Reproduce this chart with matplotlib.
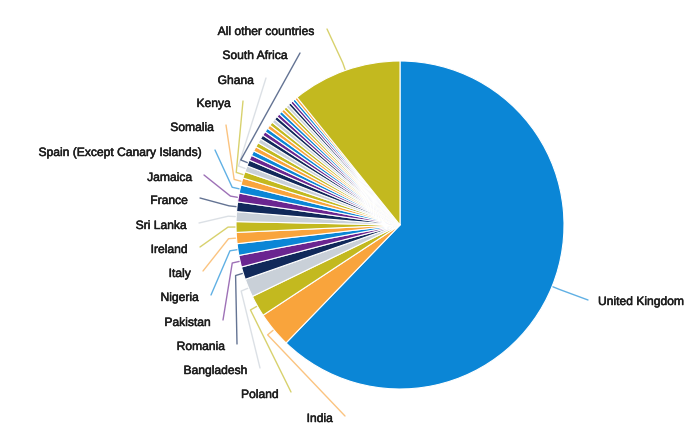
import matplotlib.pyplot as plt
import matplotlib.patheffects as pe
import numpy as np

plt.rcParams['font.family'] = ['Liberation Sans', 'DejaVu Sans']

# labelled countries, clockwise from 12 o'clock (share of total, %)
labels = ["United Kingdom", "India", "Poland", "Bangladesh", "Romania", "Pakistan",
          "Nigeria", "Italy", "Ireland", "Sri Lanka", "France", "Jamaica",
          "Spain (Except Canary Islands)", "Somalia", "Kenya", "Ghana", "South Africa"]
shares = [62.2, 3.5, 2.1, 1.8, 1.25, 1.15, 1.15, 1.1, 1.05, 0.97, 0.95, 0.87,
          0.8, 0.7, 0.65, 0.6, 0.6]

# small countries drawn without a label
unlabelled = [0.5, 0.48, 0.46, 0.45, 0.44, 0.42, 0.41, 0.4, 0.38, 0.37, 0.36,
              0.35, 0.34, 0.33, 0.32, 0.31, 0.3, 0.29, 0.28, 0.27, 0.26]

other_label = "All other countries"
other_share = 10.8

palette = ["#0b86d6", "#f9a43c", "#c3b91f", "#c9d0d8", "#11295a", "#6a2590"]

# where each label sits in the picture (pixels from top-left)
label_xy = [(598, 302), (333, 419), (279, 395), (248, 371), (225, 347), (211, 323),
            (199, 298), (191, 274), (188, 250), (187, 226), (188, 201), (192, 178),
            (203, 153), (214, 128), (231, 104), (254, 81), (288, 56)]
other_xy = (315, 32)

W, H = 700, 441
cx, cy, R = 400, H - 225, 164

values = shares + unlabelled + [other_share]
names = labels + [""] * len(unlabelled) + [other_label]
positions = label_xy + [None] * len(unlabelled) + [other_xy]
colors = [palette[i % len(palette)] for i in range(len(values))]

fig = plt.figure(figsize=(W / 100, H / 100), dpi=100)
ax = fig.add_axes([0, 0, 1, 1])

wedges, _ = ax.pie(values, colors=colors, startangle=90, counterclock=False,
                   center=(cx, cy), radius=R,
                   wedgeprops=dict(edgecolor="white", linewidth=0.8))

bold_ish = [pe.withStroke(linewidth=0.35, foreground="#1e1e1e")]

for w, name, pos, col in zip(wedges, names, positions, colors):
    if pos is None:
        continue
    mid = np.deg2rad((w.theta1 + w.theta2) / 2)
    rim = (cx + (R + 1) * np.cos(mid), cy + (R + 1) * np.sin(mid))
    elbow = (cx + (R + 8) * np.cos(mid), cy + (R + 8) * np.sin(mid))
    tx, ty = pos[0], H - pos[1]
    if name == "United Kingdom":
        start = (tx - 10, ty + 2)
        ha = "left"
    else:
        start = (tx + 12, ty + 3)
        ha = "right"
    ax.plot([start[0], elbow[0], rim[0]], [start[1], elbow[1], rim[1]],
            color=col, alpha=0.65, lw=1.0, solid_capstyle="round")
    ax.text(tx, ty, name, ha=ha, va="center", fontsize=8.7, color="#1e1e1e",
            path_effects=bold_ish)

ax.set_xlim(0, W)
ax.set_ylim(0, H)
ax.set_aspect("equal")
ax.axis("off")

fig.savefig("out.png", dpi=100, facecolor="white")
